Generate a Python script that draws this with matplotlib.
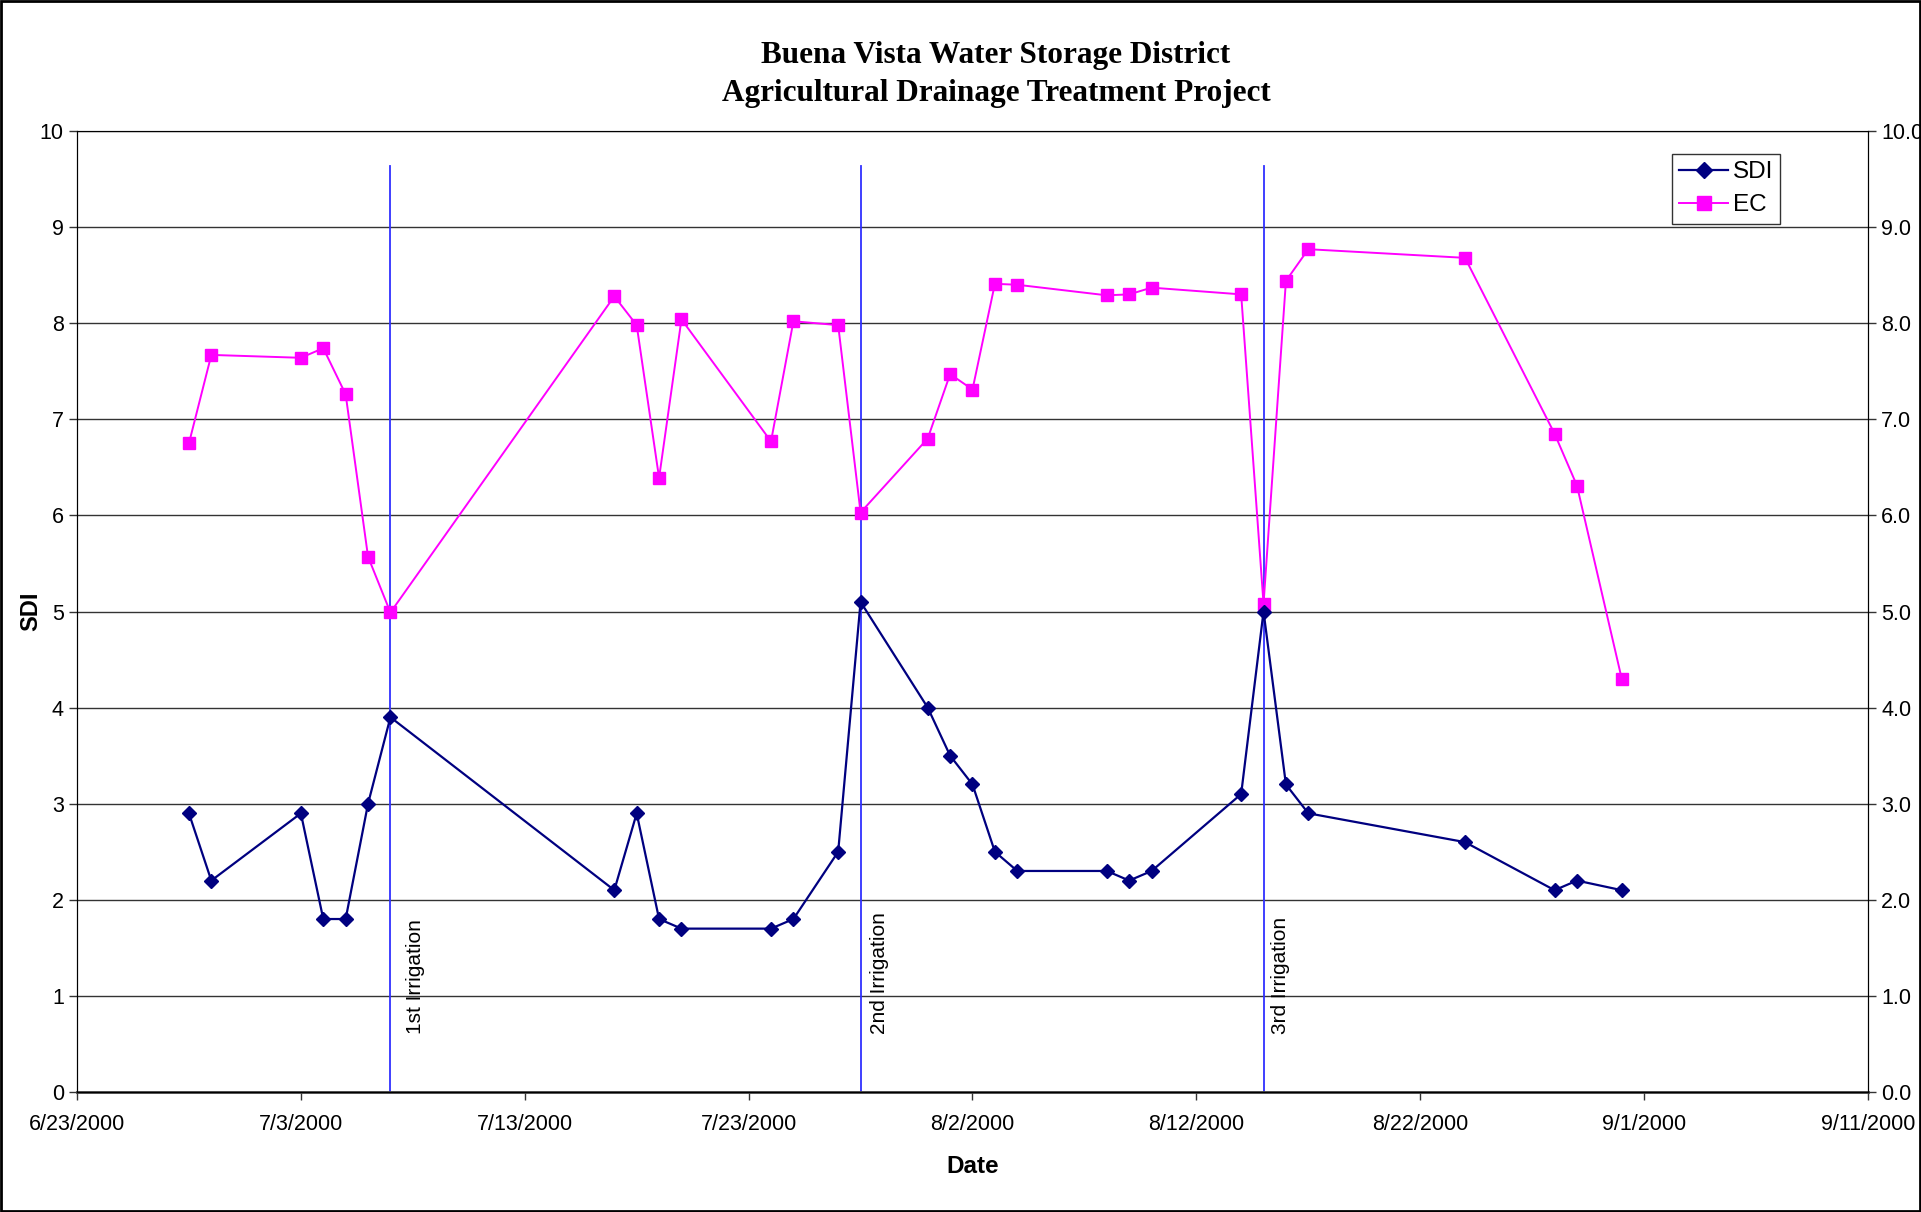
import matplotlib
matplotlib.use("Agg")
import matplotlib.pyplot as plt
import matplotlib.dates as mdates
from matplotlib.patches import Rectangle
import datetime as dt

dates = ["2000-06-28", "2000-06-29", "2000-07-03", "2000-07-04", "2000-07-05", "2000-07-06",
         "2000-07-07", "2000-07-17", "2000-07-18", "2000-07-19", "2000-07-20", "2000-07-24",
         "2000-07-25", "2000-07-27", "2000-07-28", "2000-07-31", "2000-08-01", "2000-08-02",
         "2000-08-03", "2000-08-04", "2000-08-08", "2000-08-09", "2000-08-10", "2000-08-14",
         "2000-08-15", "2000-08-16", "2000-08-17", "2000-08-24", "2000-08-28", "2000-08-29",
         "2000-08-31"]
sdi = [2.9, 2.2, 2.9, 1.8, 1.8, 3.0, 3.9, 2.1, 2.9, 1.8, 1.7, 1.7, 1.8, 2.5, 5.1, 4.0,
       3.5, 3.2, 2.5, 2.3, 2.3, 2.2, 2.3, 3.1, 5.0, 3.2, 2.9, 2.6, 2.1, 2.2, 2.1]
ec = [6.75, 7.67, 7.64, 7.74, 7.26, 5.57, 4.99, 8.28, 7.98, 6.39, 8.04, 6.77, 8.02, 7.98,
      6.03, 6.80, 7.47, 7.31, 8.41, 8.40, 8.29, 8.30, 8.37, 8.30, 5.08, 8.44, 8.77, 8.68,
      6.85, 6.31, 4.30]
irrigation_dates = ["2000-07-07", "2000-07-28", "2000-08-15"]
irrigation_labels = ["1st Irrigation", "2nd Irrigation", "3rd Irrigation"]
x_tick_dates = ["2000-06-23", "2000-07-03", "2000-07-13", "2000-07-23", "2000-08-02",
                "2000-08-12", "2000-08-22", "2000-09-01", "2000-09-11"]

to_d = lambda s: dt.datetime.strptime(s, "%Y-%m-%d")
xd = [to_d(s) for s in dates]
xt = [to_d(s) for s in x_tick_dates]

plt.rcParams['font.family'] = ['Liberation Sans', 'DejaVu Sans']
W, H = 1921, 1212
fig = plt.figure(figsize=(W / 100, H / 100), dpi=100)
ax = fig.add_axes([77 / W, 1 - 1092 / H, (1868 - 77) / W, (1092 - 131) / H])

ax.set_xlim(xt[0], xt[-1])
ax.set_ylim(0, 10)
ax.set_yticks(range(0, 11))
ax.set_xticks(xt)
ax.set_xticklabels([f"{d.month}/{d.day}/{d.year}" for d in xt])
ax.grid(axis='y', color='#333333', linewidth=1.0)
ax.set_axisbelow(True)
ax.tick_params(axis='both', labelsize=15.5, direction='out', length=6, width=1, color='#333333')
ax.tick_params(axis='x', pad=10)

ax.spines['top'].set_color('#777777')
ax.spines['bottom'].set_color('#444444')
ax.spines['bottom'].set_linewidth(2.0)
ax.spines['left'].set_color('black')
ax.spines['right'].set_color('black')

label_offsets = [1.1, 0.85, 0.75]
for d, lab, off in zip(irrigation_dates, irrigation_labels, label_offsets):
    x0 = to_d(d)
    ax.plot([x0, x0], [0, 9.64], color='#3030ff', linewidth=1.3, zorder=2)
    ax.text(mdates.date2num(x0) + off, 0.6, lab, rotation=90, fontsize=15,
            ha='center', va='bottom', color='black')

l1, = ax.plot(xd, sdi, color='#000080', marker='D', markersize=7, linewidth=1.6,
              label='SDI', zorder=4)
l2, = ax.plot(xd, ec, color='#FF00FF', marker='s', markersize=9, linewidth=1.4,
              label='EC', zorder=3)

ax.set_ylabel('SDI', fontsize=17, fontweight='bold', labelpad=-2)
ax.set_xlabel('Date', fontsize=17.5, fontweight='bold', labelpad=14)

ax2 = ax.twinx()
ax2.set_ylim(0, 10)
ax2.set_yticks(range(0, 11))
ax2.set_yticklabels([f"{v:.1f}" for v in range(0, 11)])
ax2.tick_params(axis='y', labelsize=15.5, direction='out', length=6, width=1, color='#333333')
ax2.set_ylabel('EC (mS/cm)', fontsize=17, fontweight='bold', rotation=90, labelpad=9)

leg = ax.legend(handles=[l1, l2], loc='upper left', bbox_to_anchor=(1672 / W, 1 - 154 / H),
                bbox_transform=fig.transFigure, fontsize=17.5, frameon=True, fancybox=False,
                edgecolor='black', handlelength=2.0, handletextpad=0.2, borderpad=0.3,
                labelspacing=0.45, borderaxespad=0, markerscale=1.15)
leg.get_frame().set_linewidth(1.0)

cx = 996 / W
fig.text(cx, 1 - 56 / H, 'Buena Vista Water Storage District',
         ha='center', va='center', fontsize=22.5, fontweight='bold', family='Liberation Serif')
fig.text(cx, 1 - 94 / H, 'Agricultural Drainage Treatment Project',
         ha='center', va='center', fontsize=22.5, fontweight='bold', family='Liberation Serif')

fig.patches.append(Rectangle((0.0005, 0.0008), 0.999, 0.9985, transform=fig.transFigure,
                             fill=False, edgecolor='black', linewidth=2))

fig.savefig('out.png', dpi=100)
